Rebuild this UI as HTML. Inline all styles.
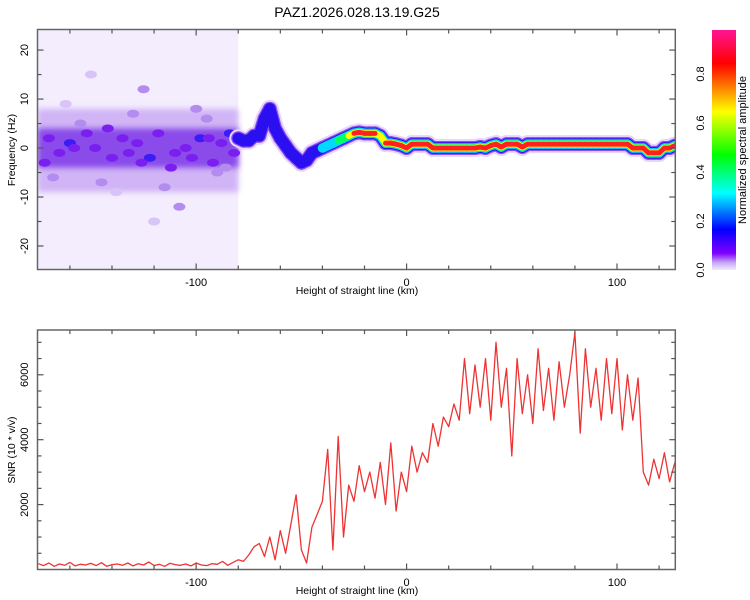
<!DOCTYPE html>
<html><head><meta charset="utf-8"><style>
html,body{margin:0;padding:0;background:#fff;}
svg{display:block;font-family:"Liberation Sans",sans-serif;}
</style></head><body>
<svg id="fig" width="750" height="600" viewBox="0 0 750 600">
<defs>
<filter id="blur3" x="-20%" y="-50%" width="140%" height="200%"><feGaussianBlur stdDeviation="3"/></filter>
<linearGradient id="cbar" x1="0" y1="1" x2="0" y2="0">
<stop offset="0" stop-color="#f4ecfd"/><stop offset="0.03" stop-color="#c8a8f4"/>
<stop offset="0.07" stop-color="#7f00ff"/><stop offset="0.17" stop-color="#0000ff"/>
<stop offset="0.32" stop-color="#00ffff"/><stop offset="0.48" stop-color="#00ff00"/>
<stop offset="0.66" stop-color="#ffff00"/><stop offset="0.76" stop-color="#ff8000"/>
<stop offset="0.86" stop-color="#ff0000"/><stop offset="1" stop-color="#ff1493"/>
</linearGradient>
<clipPath id="clipTop"><rect x="37.5" y="29.5" width="637.8" height="240"/></clipPath>
<clipPath id="clipBot"><rect x="37.5" y="330" width="637.8" height="239.5"/></clipPath>
</defs>
<text x="357" y="17" font-size="14" text-anchor="middle" fill="#000">PAZ1.2026.028.13.19.G25</text>
<g id="top"></g>
<g id="bot"></g>
<g id="cb"></g>
</svg>
<script>
// ---- data ----
const snrStart = -175, snrStep = 2.5;
const snrValues = [180,120,200,100,170,130,220,110,160,140,190,120,210,100,150,170,130,200,110,180,140,230,120,160,100,190,150,130,170,110,200,140,120,180,160,250,130,
220,300,250,450,700,800,400,1000,300,1200,500,1400,2300,600,200,1300,1700,2100,3700,600,4100,1000,2600,2100,3200,2400,3000,2200,3300,2000,3900,1800,3000,2400,3800,3000,3600,3300,4500,3800,4700,4400,5100,4600,6500,4800,6300,5000,6500,4600,7000,5000,6200,3500,6500,4800,6000,4500,6800,4900,6200,4600,6400,5000,6000,7300,4200,6800,5000,6200,4600,6500,4800,6500,4300,6000,4600,5900,3000,2600,3400,2800,3600,2700,3300];
const ridgeStart = -80, ridgeStep = 2.5;
const ridgeFreq = [2,1.5,1.5,2.5,2.5,6,8,4,2,0.5,-1,-2,-3,-2.5,-1,-0.5,0,0.5,1,1.5,2,2.5,3,3.2,3,3,3,2.5,1,1,0.8,0.5,0,0.8,0.8,0.8,0.8,0,0,0,0,0,0,0,0,0,0.2,0,0.5,0.8,0.2,0.8,0.8,0.8,0.2,0.8,0.8,0.8,0.8,0.8,0.8,0.8,0.8,0.8,0.8,0.8,0.8,0.8,0.8,0.8,0.8,0.8,0.8,0.8,0.8,0,0,0,-1,-1,-1,0,0,0.5];
const ridgeAmp = [0.28,0.32,0.28,0.32,0.28,0.25,0.25,0.28,0.25,0.25,0.25,0.25,0.28,0.28,0.25,0.28,0.32,0.4,0.45,0.55,0.6,0.65,0.8,0.9,0.9,0.9,0.85,0.7,0.9,0.9,0.9,0.9,0.9,0.9,0.9,0.9,0.9,0.9,0.9,0.9,0.9,0.9,0.9,0.9,0.9,0.9,0.9,0.9,0.9,0.9,0.9,0.9,0.9,0.9,0.9,0.9,0.9,0.9,0.9,0.9,0.9,0.9,0.9,0.9,0.9,0.9,0.9,0.9,0.9,0.9,0.9,0.9,0.9,0.9,0.9,0.9,0.9,0.9,0.9,0.9,0.9,0.9,0.9,0.9];
const blobKm = [-170,-165,-160,-152,-148,-140,-135,-128,-122,-118,-110,-105,-98,-92,-88,-84,-168,-155,-145,-130,-115,-100,-90,-162,-138,-125,-108,-95,-150,-120,-86,-172,-142,-112,-102,-132,-158,-94,-82,-126];
const blobHz = [2,-1,1,3,0,-2,2,1,-2,3,-1,0,2,-3,1,3,-6,5,-7,7,-8,8,-5,9,-9,12,-12,6,15,-15,-4,-3,4,-4,-2,-1,0,2,-1,-3];
const blobLvl = [0.25,0.2,0.3,0.2,0.25,0.2,0.2,0.25,0.3,0.2,0.25,0.2,0.3,0.2,0.25,0.3,0.12,0.12,0.12,0.12,0.12,0.12,0.12,0.08,0.08,0.1,0.1,0.1,0.06,0.06,0.15,0.2,0.22,0.2,0.2,0.25,0.2,0.2,0.2,0.22];
const xTicks = [-100,0,100];
const freqTicks = [-20,-10,0,10,20];
const snrTicks = [2000,4000,6000];
const cbTicks = ["0.0","0.2","0.4","0.6","0.8"];

// ---- axes ----
const L=37.5,R=675.3,KM0=-175.4,KM1=127.7;
const xs = k => L+(k-KM0)/(KM1-KM0)*(R-L);
const TT=29.5,TB=269.5,F0=-24.8,F1=24.2;
const yf = f => TB-(f-F0)/(F1-F0)*(TB-TT);
const BT=330,BB=569.5,S0=0,S1=7380;
const ys = v => BB-(v-S0)/(S1-S0)*(BB-BT);
const NS="http://www.w3.org/2000/svg";
function mk(tag,attrs,parent){const e=document.createElementNS(NS,tag);for(const k in attrs)e.setAttribute(k,attrs[k]);parent.appendChild(e);return e;}
const gTop=document.getElementById('top'),gBot=document.getElementById('bot'),gCb=document.getElementById('cb');

// ---- spectrogram ----
const sg=mk('g',{'clip-path':'url(#clipTop)'},gTop);


mk('rect',{x:xs(-175.4),y:TT,width:xs(-80)-xs(-175.4),height:TB-TT,fill:'#f4edfd'},sg);
mk('rect',{x:xs(-175.4),y:yf(8),width:xs(-80)-xs(-175.4),height:yf(-9)-yf(8),fill:'#d0b4f5',filter:'url(#blur3)'},sg);
mk('rect',{x:xs(-175.4),y:yf(4),width:xs(-80)-xs(-175.4),height:yf(-4)-yf(4),fill:'#8a4cea',filter:'url(#blur3)'},sg);
function lvlColor(a){if(a<0.1)return '#d9c4f7';if(a<0.18)return '#b48cf0';if(a<0.26)return '#7a1ff0';return '#3a1cf5';}
for(let i=0;i<blobKm.length;i++){
  const c=mk('ellipse',{cx:xs(blobKm[i]),cy:yf(blobHz[i]),rx:6,ry:4,fill:lvlColor(blobLvl[i])},sg);
  
  
}
const layers=[[18,'#e6d6fa',0],[14,'#8f4cf0',0.1],[11.5,'#2a10f0',0.2],[9.5,'#00d8ff',0.3],[7.5,'#00ff60',0.5],[6.5,'#ffff00',0.65],[5,'#ff2020',0.8]];
for(const [w,col,th] of layers){
  for(let i=0;i<ridgeFreq.length-1;i++){
    const a=Math.min(ridgeAmp[i],ridgeAmp[i+1]);
    if(a<th)continue;
    const k0=ridgeStart+i*ridgeStep,k1=ridgeStart+(i+1)*ridgeStep;
    const s=mk('line',{x1:xs(k0),y1:yf(ridgeFreq[i]),x2:xs(k1),y2:yf(ridgeFreq[i+1]),stroke:col,'stroke-width':w,'stroke-linecap':'round'},sg);
    
    
  }
}

// ---- SNR line ----
let d='';
snrValues.forEach((v,i)=>{d+=(i?'L':'M')+xs(snrStart+i*snrStep).toFixed(1)+','+ys(v).toFixed(1);});
const ln=mk('path',{d:d,fill:'none',stroke:'#ee3333','stroke-width':1.3,'stroke-linejoin':'round','clip-path':'url(#clipBot)'},gBot);



// ---- frames & ticks ----
function frame(g,t,b,name){
  const r=mk('rect',{x:L,y:t,width:R-L,height:b-t,fill:'none',stroke:'#666','stroke-width':1.5},g);
  
  
  for(let k=-160;k<=120;k+=20){
    const len=(k%100===0)?6:4;
    mk('line',{x1:xs(k),y1:b,x2:xs(k),y2:b-len,stroke:'#555','stroke-width':1.2},g);
    mk('line',{x1:xs(k),y1:t,x2:xs(k),y2:t+len,stroke:'#555','stroke-width':1.2},g);
  }
}
frame(gTop,TT,TB,'spectrogram-frame');frame(gBot,BT,BB,'snr-frame');
for(let f=-20;f<=20;f+=5){const len=(f%10===0)?6:4;
  mk('line',{x1:L,y1:yf(f),x2:L+len,y2:yf(f),stroke:'#555','stroke-width':1.2},gTop);
  mk('line',{x1:R,y1:yf(f),x2:R-len,y2:yf(f),stroke:'#555','stroke-width':1.2},gTop);}
for(let v=500;v<=7000;v+=500){const len=(v%2000===0)?6:4;
  mk('line',{x1:L,y1:ys(v),x2:L+len,y2:ys(v),stroke:'#555','stroke-width':1.2},gBot);
  mk('line',{x1:R,y1:ys(v),x2:R-len,y2:ys(v),stroke:'#555','stroke-width':1.2},gBot);}
function txt(g,x,y,s,size,rot,name){
  const t=mk('text',{x:x,y:y,'font-size':size,'text-anchor':'middle',fill:'#000'},g);
  if(rot)t.setAttribute('transform','rotate(-90 '+x+' '+y+')');
  t.textContent=s;
  
  
  return t;}
xTicks.forEach(k=>{txt(gTop,xs(k),286,String(k),11,false,'x-tick-label');txt(gBot,xs(k),586,String(k),11,false,'x-tick-label');});
txt(gTop,357,294,'Height of straight line (km)',10.5,false,'x-axis-title');
txt(gBot,357,594,'Height of straight line (km)',10.5,false,'x-axis-title');
freqTicks.forEach(f=>txt(gTop,28,yf(f),String(f),11,true,'y-tick-label'));
txt(gTop,15,150,'Frequency (Hz)',10.5,true,'y-axis-title');
snrTicks.forEach(v=>txt(gBot,28,ys(v),String(v),11,true,'y-tick-label'));
txt(gBot,15,450,'SNR (10 * v/v)',10.5,true,'y-axis-title');

// ---- colorbar ----
const CB0=270,CBperUnit=245;
const cr=mk('rect',{x:712,y:30,width:24,height:240,fill:'url(#cbar)'},gCb);


cbTicks.forEach(s=>txt(gCb,704,CB0-parseFloat(s)*CBperUnit,s,11,true,'colorbar-tick-label'));
txt(gCb,746,150,'Normalized spectral amplitude',11,true,'colorbar-title');
</script>
</body></html>
